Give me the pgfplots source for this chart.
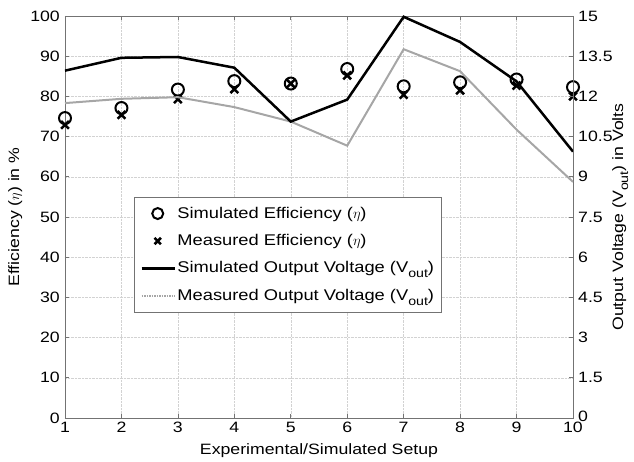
\documentclass[border=0pt]{standalone}
\usepackage{pgfplots}
\pgfplotsset{compat=1.18}
\usepackage{fontspec}
\setmainfont[FakeStretch=1.18]{Liberation Sans}
\pgfplotstableread{
x sim meas
1 74.6 72.9
2 77.1 75.4
3 81.7 79.3
4 83.8 81.8
5 83.2 83.2
6 86.8 85.2
7 82.5 80.4
8 83.5 81.5
9 84.2 82.7
10 82.3 80.0
}\efftable
\pgfplotstableread{
x sim meas
1 12.96 11.75
2 13.44 11.91
3 13.47 11.97
4 13.07 11.60
5 11.06 11.06
6 11.88 10.16
7 14.97 13.76
8 14.03 12.94
9 12.56 10.76
10 9.94 8.81
}\volttable
\definecolor{axgray}{gray}{0.45}
\definecolor{measgray}{gray}{0.65}
\pgfplotsset{
  marklegend/.style={legend image code/.code={\draw[##1] plot coordinates {(16pt,0pt)};}},
  linelegend/.style={legend image code/.code={\draw[##1] (0pt,0pt) -- (33pt,0pt);}},
}
\newcommand{\Vout}{V\raisebox{-0.6ex}{\fontsize{12}{12}\selectfont out}}
\begin{document}
\fontsize{15}{18}\selectfont
\begin{tikzpicture}
\begin{axis}[name=ax,
  scale only axis, width=508pt, height=402pt,
  xmin=1, xmax=10, ymin=0, ymax=100,
  xtick={1,...,10}, ytick={0,10,...,100},
  xtick pos=both, ytick pos=left,
  tick align=inside, major tick length=4pt,
  axis line style={axgray, line width=0.8pt},
  tick style={axgray, line width=0.6pt},
  grid=major, grid style={densely dotted, gray!35, line width=0.5pt},
  /pgf/number format/assume math mode=true,
  ticklabel style={font=\fontsize{15}{18}\selectfont},
  xticklabel style={yshift=1pt},
  xlabel={Experimental/Simulated Setup},
  ylabel={Efficiency ($\eta$) in \%},
  xlabel style={at={(axis description cs:0.5,-0.08)}, anchor=center},
  ylabel style={at={(axis description cs:-0.098,0.5)}, anchor=center},
  legend cell align=left,
  legend style={at={(0.136,0.55)}, anchor=north west, draw=axgray, fill=white,
    font=\fontsize{15.5}{18}\selectfont, row sep=11pt, inner xsep=6pt, inner ysep=8pt,
    line width=0.8pt, nodes={inner sep=1.5pt}},
]
\addplot[only marks, mark=o, mark size=6pt, line width=2pt, black, marklegend,
  legend image post style={mark size=5.5pt}]
  table[x=x, y=sim] {\efftable};
\addlegendentry{Simulated Efficiency ($\eta$)}
\addplot[only marks, mark=x, mark size=5.5pt, line width=2.5pt, black, marklegend,
  legend image post style={mark size=4.5pt}]
  table[x=x, y=meas] {\efftable};
\addlegendentry{Measured Efficiency ($\eta$)}
\addlegendimage{black, line width=2.5pt, linelegend}
\addlegendentry{Simulated Output Voltage (\Vout)}
\addlegendimage{measgray, line width=1.5pt, densely dotted, linelegend}
\addlegendentry{Measured Output Voltage (\Vout)}
\end{axis}
\begin{axis}[
  scale only axis, width=508pt, height=402pt,
  xmin=1, xmax=10, ymin=0, ymax=15,
  axis x line=none, axis y line*=right,
  ytick={0,1.5,3,4.5,6,7.5,9,10.5,12,13.5,15},
  yticklabels={\raisebox{4pt}{0},1.5,3,4.5,6,7.5,9,10.5,12,13.5,15},
  tick align=inside, major tick length=4pt,
  axis line style={axgray, line width=0.8pt},
  tick style={axgray, line width=0.6pt},
  ticklabel style={font=\fontsize{15}{18}\selectfont},
  ylabel={Output Voltage (\Vout) in Volts},
  ylabel style={at={(axis description cs:1.093,0.5)}, anchor=center},
]
\addplot[measgray, line width=2pt, mark=none] table[x=x, y=meas] {\volttable};
\addplot[black, line width=2.5pt, mark=none] table[x=x, y=sim] {\volttable};
\end{axis}
\pgfresetboundingbox
\path ([shift={(-65pt,-44pt)}]ax.south west) rectangle ([shift={(61pt,16pt)}]ax.north east);
\end{tikzpicture}
\end{document}
